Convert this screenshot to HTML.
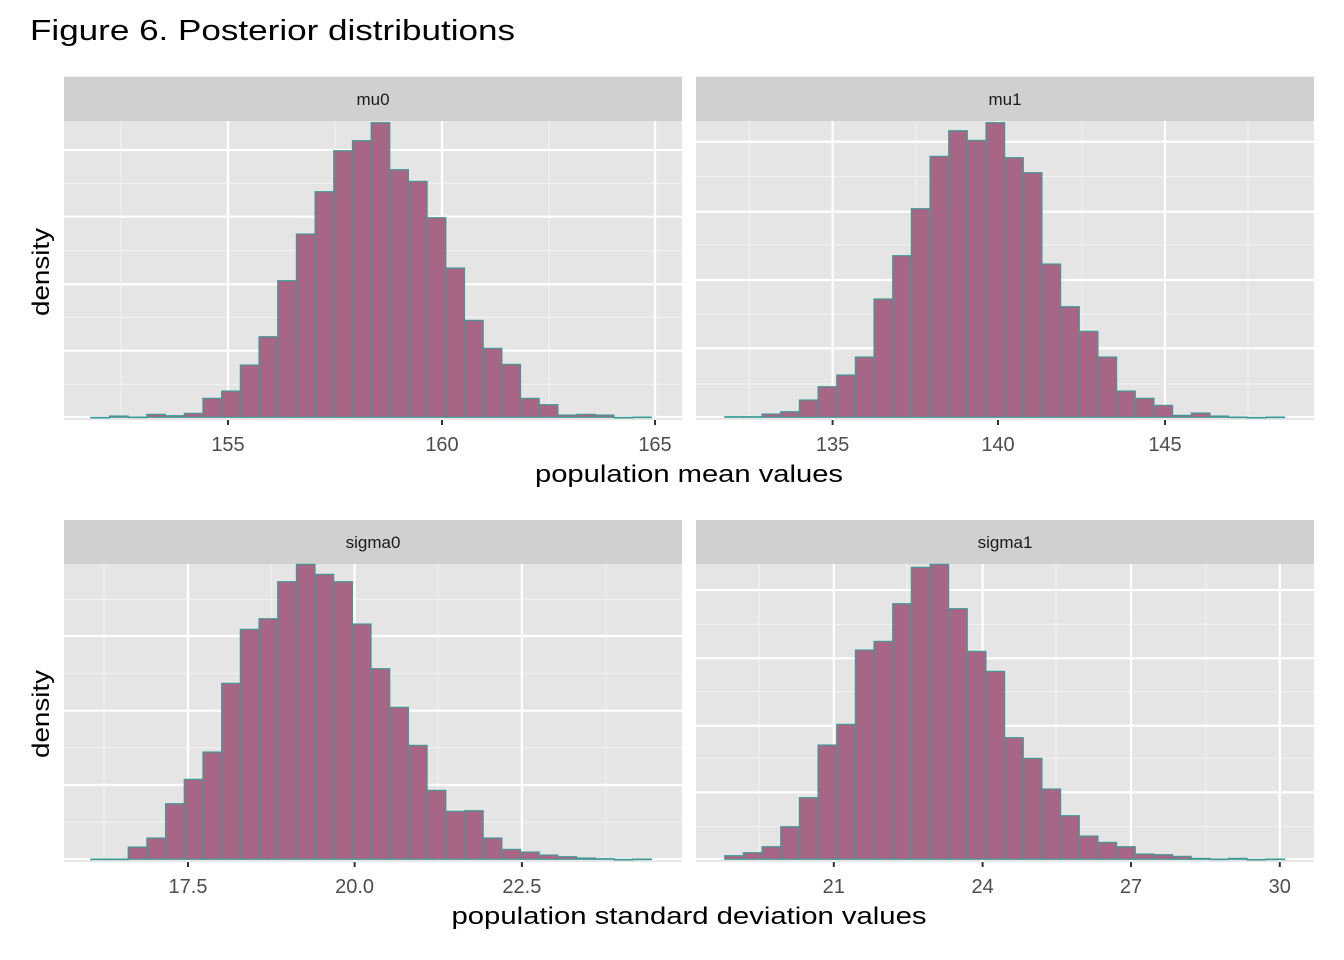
<!DOCTYPE html>
<html><head><meta charset="utf-8">
<style>
html,body{margin:0;padding:0;background:#fff;}
svg{display:block;font-family:"Liberation Sans",Arial,sans-serif;}
</style></head>
<body>
<svg id="s" width="1344" height="960" viewBox="0 0 1344 960" xmlns="http://www.w3.org/2000/svg">
<rect width="1344" height="960" fill="#fff"/>
<text x="30" y="40" font-size="29" textLength="485" lengthAdjust="spacingAndGlyphs" fill="#000">Figure 6. Posterior distributions</text>
<g id="g"></g>
<text x="689" y="482" font-size="24" text-anchor="middle" textLength="308" lengthAdjust="spacingAndGlyphs" fill="#000">population mean values</text>
<text x="689" y="924" font-size="24" text-anchor="middle" textLength="475" lengthAdjust="spacingAndGlyphs" fill="#000">population standard deviation values</text>
<text transform="translate(49,272) rotate(-90)" font-size="24" text-anchor="middle" textLength="88" lengthAdjust="spacingAndGlyphs" fill="#000">density</text>
<text transform="translate(49,714) rotate(-90)" font-size="24" text-anchor="middle" textLength="88" lengthAdjust="spacingAndGlyphs" fill="#000">density</text>
</svg>
<script>
var NS="http://www.w3.org/2000/svg",g=document.getElementById("g");
function el(t,a,txt){var e=document.createElementNS(NS,t);for(var k in a)e.setAttribute(k,a[k]);if(txt!==undefined)e.textContent=txt;g.appendChild(e);return e;}
var P=[
{x0:64,x1:682,st:76.7,top:121,bot:420,yoff:110,label:"mu0",bx0:90.8,bx1:651.4,
 tops:[922,918,921,913,917,910,865,843,765,680,512,372,245,122,92,38,179,214,323,474,631,715,763,865,884,915,913,915,922,921],
 majX:[[228,"155"],[442,"160"],[655,"165"]],minX:[121,335,549],majY:[150,216.7,284.3,350.7,417],minY:[183.3,250.7,317.3,384.3]},
{x0:696,x1:1314,st:76.7,top:121,bot:420,yoff:110,label:"mu1",bx0:724.7,bx1:1284.6,
 tops:[920,920,912,905,870,830,795,741,567,437,296,139,62,91,38,143,188,462,590,664,741,843,865,886,916,909,918,921,922,921],
 majX:[[832.6,"135"],[998,"140"],[1165,"145"]],minX:[749.5,916,1082,1248],majY:[141.7,211.7,280,348.3,417],minY:[176.7,245,314,384]},
{x0:64,x1:682,st:520,top:564,bot:862,yoff:555,label:"sigma0",bx0:90.8,bx1:651.4,
 tops:[912,912,876,849,746,673,591,385,223,191,80,28,58,80,207,341,457,571,706,769,767,849,883,891,900,905,909,911,913,912],
 majX:[[188,"17.5"],[354.6,"20.0"],[521.9,"22.5"]],minX:[104,271.5,438,606],majY:[636,710.7,785,859],minY:[599.3,673.3,747.7,822.3]},
{x0:696,x1:1314,st:520,top:564,bot:862,yoff:555,label:"sigma1",bx0:724.7,bx1:1284.6,
 tops:[902,893,875,815,728,570,508,285,259,146,37,28,161,289,349,548,610,702,782,843,862,875,897,899,904,910,912,910,913,912],
 majX:[[833.8,"21"],[982.6,"24"],[1131,"27"],[1279.8,"30"]],minX:[759,907,1056,1206],majY:[590,658.3,725.7,792.3,859],minY:[624.3,691.7,758.3,826.7]}
];
P.forEach(function(p){
 el("rect",{x:p.x0,y:p.st,width:p.x1-p.x0,height:p.top-p.st,fill:"#D0D0D0"});
 el("text",{x:(p.x0+p.x1)/2,y:(p.st+p.top)/2+6,"font-size":"17","text-anchor":"middle",fill:"#1a1a1a"},p.label);
 el("rect",{x:p.x0,y:p.top,width:p.x1-p.x0,height:p.bot-p.top,fill:"#E5E5E5"});
 p.minY.forEach(function(y){el("line",{x1:p.x0,x2:p.x1,y1:y,y2:y,stroke:"#F2F2F2","stroke-width":"1.1"});});
 p.minX.forEach(function(x){el("line",{x1:x,x2:x,y1:p.top,y2:p.bot,stroke:"#F2F2F2","stroke-width":"1.1"});});
 p.majY.forEach(function(y){el("line",{x1:p.x0,x2:p.x1,y1:y,y2:y,stroke:"#fff","stroke-width":"2.2"});});
 p.majX.forEach(function(m){
  el("line",{x1:m[0],x2:m[0],y1:p.top,y2:p.bot,stroke:"#fff","stroke-width":"2.2"});
  el("line",{x1:m[0],x2:m[0],y1:p.bot,y2:p.bot+5,stroke:"#333","stroke-width":"2"});
  el("text",{x:m[0],y:p.bot+31,"font-size":"20","text-anchor":"middle",fill:"#4D4D4D"},m[1]);
 });
 var n=p.tops.length,w=(p.bx1-p.bx0)/n,base=p.yoff+(p.label.indexOf("mu")==0?922:913)/3;
 p.tops.forEach(function(t,i){
  var y=p.yoff+t/3;
  el("rect",{x:p.bx0+i*w,y:y,width:w,height:Math.max(base-y,0.6),fill:"#A86687",stroke:"#3E9A96","stroke-width":"1.1"});
 });
});
</script>
</body></html>
